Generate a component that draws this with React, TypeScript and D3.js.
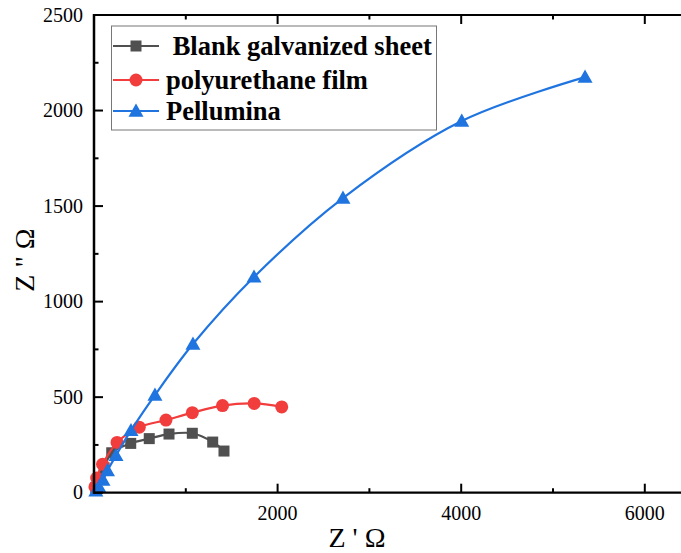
import React from "react";
import * as d3 from "d3";

const blankX = [20, 60, 110, 193, 400, 602, 817, 1071, 1293, 1416];
const blankY = [25, 70, 130, 209, 258, 283, 307, 311, 265, 218];

const puX = [10, 29, 93, 251, 493, 784, 1071, 1400, 1745, 2045];
const puY = [30, 77, 149, 263, 343, 380, 419, 456, 467, 449];

const peX = [20, 54, 98, 147, 240, 403, 664, 1078, 1743, 2712, 4006, 5349];
const peY = [10, 30, 66, 116, 195, 326, 511, 778, 1129, 1542, 1945, 2175];

const seriesNames = [" Blank galvanized sheet", "polyurethane film", "Pellumina"];
const seriesColors = ["#505050", "#f23d3d", "#1f74e0"];

const xTicksMajor = [2000, 4000, 6000];
const xTicksMinor = [1000, 3000, 5000];
const yTicksMajor = [0, 500, 1000, 1500, 2000, 2500];
const yTicksMinor = [250, 750, 1250, 1750, 2250];

const W = 681;
const H = 553;
const left = 94;
const top = 15;
const bottom = 492.7;

const x = d3.scaleLinear().domain([0, 6400]).range([left, left + 6400 * 0.0918]);
const y = d3.scaleLinear().domain([0, 2500]).range([bottom, top]);

const line = d3
  .line<[number, number]>()
  .x((d) => x(d[0]))
  .y((d) => y(d[1]))
  .curve(d3.curveCatmullRom.alpha(0.5));

function zip(a: number[], b: number[]): [number, number][] {
  return a.map((v, i) => [v, b[i]]);
}

const FONT = "Liberation Serif, serif";

function Marker({ kind, cx, cy, color }: { kind: number; cx: number; cy: number; color: string }) {
  if (kind === 0) return <rect x={cx - 5.5} y={cy - 5.5} width={11} height={11} fill={color} />;
  if (kind === 1) return <circle cx={cx} cy={cy} r={6.5} fill={color} />;
  const s = 7.5;
  return (
    <path
      d={`M${cx},${cy - s}L${cx + s},${cy + s * 0.75}L${cx - s},${cy + s * 0.75}Z`}
      fill={color}
    />
  );
}

export default function App() {
  const series = [zip(blankX, blankY), zip(puX, puY), zip(peX, peY)];
  const legendRows = [46, 80, 111];
  const ts = { fontFamily: FONT };
  return (
    <svg
      width={W}
      height={H}
      style={{ position: "absolute", left: 0, top: 0, background: "#fff", fontFamily: FONT }}
    >
      <rect x={0} y={0} width={W} height={H} fill="#fff" />
      {series.map((pts, i) => (
        <g key={i}>
          <path d={line(pts) || ""} fill="none" stroke={seriesColors[i]} strokeWidth={2.2} />
          {pts.map((p, j) => (
            <Marker key={j} kind={i} cx={x(p[0])} cy={y(p[1])} color={seriesColors[i]} />
          ))}
        </g>
      ))}
      {/* frame */}
      <line x1={left} y1={top} x2={W + 2} y2={top} stroke="#000" strokeWidth={2} />
      <line x1={left} y1={top - 1} x2={left} y2={bottom + 1} stroke="#000" strokeWidth={2.5} />
      <line x1={left - 1} y1={bottom} x2={W + 2} y2={bottom} stroke="#000" strokeWidth={2.2} />
      {/* x ticks */}
      {xTicksMajor.map((t) => (
        <g key={"xm" + t}>
          <line x1={x(t)} x2={x(t)} y1={bottom} y2={bottom - 9} stroke="#000" strokeWidth={2} />
          <line x1={x(t)} x2={x(t)} y1={top} y2={top + 9} stroke="#000" strokeWidth={2} />
          <text x={x(t)} y={520} textAnchor="middle" fontSize={20} style={ts}>
            {t}
          </text>
        </g>
      ))}
      {xTicksMinor.map((t) => (
        <g key={"xn" + t}>
          <line x1={x(t)} x2={x(t)} y1={bottom} y2={bottom - 4.5} stroke="#000" strokeWidth={2} />
          <line x1={x(t)} x2={x(t)} y1={top} y2={top + 4.5} stroke="#000" strokeWidth={2} />
        </g>
      ))}
      {/* y ticks */}
      {yTicksMajor.map((t) => (
        <g key={"ym" + t}>
          <line x1={left} x2={left + 9} y1={y(t)} y2={y(t)} stroke="#000" strokeWidth={2} />
          <text x={83} y={y(t) + 6.5} textAnchor="end" fontSize={20} style={ts}>
            {t}
          </text>
        </g>
      ))}
      {yTicksMinor.map((t) => (
        <line key={"yn" + t} x1={left} x2={left + 4.5} y1={y(t)} y2={y(t)} stroke="#000" strokeWidth={2} />
      ))}
      {/* axis titles */}
      <text x={357} y={547} textAnchor="middle" fontSize={28} style={ts}>
        {"Z ' Ω"}
      </text>
      <text transform={`translate(34,260) rotate(-90)`} textAnchor="middle" fontSize={28} style={ts}>
        {'Z " Ω'}
      </text>
      {/* legend */}
      <rect x={111.5} y={26} width={325} height={104} fill="#fff" stroke="#777" strokeWidth={1} />
      {seriesNames.map((name, i) => (
        <g key={name}>
          <line x1={113} x2={159} y1={legendRows[i]} y2={legendRows[i]} stroke={seriesColors[i]} strokeWidth={2.2} />
          <Marker kind={i} cx={136} cy={legendRows[i]} color={seriesColors[i]} />
          <text
            x={166}
            y={legendRows[i] + 8.5}
            fontSize={26.5}
            fontWeight="bold"
            style={{ whiteSpace: "pre", fontFamily: FONT }}
          >
            {name}
          </text>
        </g>
      ))}
    </svg>
  );
}
